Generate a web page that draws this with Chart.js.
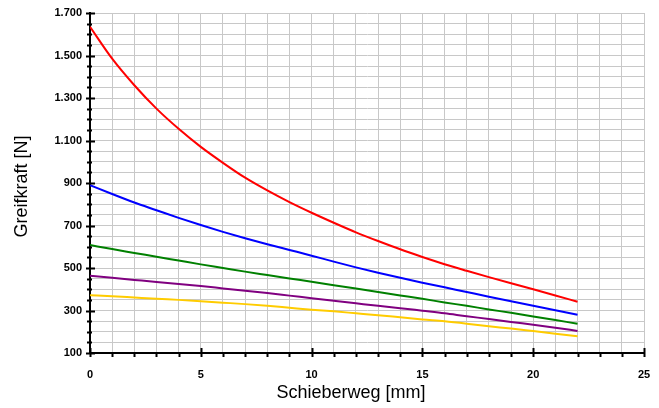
<!DOCTYPE html>
<html>
<head>
<meta charset="utf-8">
<script src="https://cdn.jsdelivr.net/npm/chart.js@4/dist/chart.umd.min.js"></script>
<style>
  html, body { margin: 0; padding: 0; background: #fff; }
  #wrap { width: 659px; height: 408px; }
</style>
</head>
<body>
<div id="wrap"><canvas id="greifChart"></canvas></div>
<script>
// Schieberweg in mm
const schieberweg = [0, 1, 2, 3, 4, 5, 6, 7, 8, 9, 10, 11, 12, 13, 14, 15, 16, 17, 18, 19, 20, 21, 22];

// Greifkraft in N
const kraftRot    = [1635, 1485, 1360, 1250, 1155, 1070, 995, 925, 865, 810, 760, 713, 668, 627, 588, 552, 518, 487, 457, 428, 400, 371, 341];
const kraftBlau   = [890, 848, 808, 772, 736, 702, 670, 640, 612, 585, 558, 530, 503, 478, 454, 431, 409, 387, 365, 344, 322, 301, 280];
const kraftGruen  = [608, 589, 571, 553, 535, 517, 500, 483, 467, 451, 435, 419, 403, 387, 371, 355, 338, 322, 305, 289, 272, 255, 238];
const kraftLila   = [464, 454, 444, 434, 425, 415, 404, 393, 382, 370, 358, 346, 334, 322, 311, 299, 287, 273, 260, 246, 233, 219, 204];
const kraftGelb   = [372, 367, 361, 355, 350, 344, 337, 330, 322, 313, 304, 296, 287, 278, 268, 258, 249, 238, 226, 215, 203, 191, 179];

const xMin = 0, xMax = 25, xStep = 1, xLabelStep = 5;
const yMin = 100, yMax = 1700, yStep = 50, yLabelStep = 200;

const xTitle = 'Schieberweg [mm]';
const yTitle = 'Greifkraft [N]';

function toPoints(values) {
    return schieberweg.map((x, i) => ({ x: x, y: values[i] }));
}

function formatDe(v) {
    return String(v).replace(/\B(?=(\d{3})+(?!\d))/g, '.');
}

function makeSet(label, values, color) {
    return {
        label: label,
        data: toPoints(values),
        borderColor: color,
        backgroundColor: color,
        borderWidth: 2,
        pointRadius: 0,
        fill: false,
        cubicInterpolationMode: 'monotone'
    };
}

const fontFamily = 'Arial, "Liberation Sans", sans-serif';

// Tick marks and axis titles
const axisDeco = {
    id: 'axisDeco',
    afterDraw(chart) {
        const ctx = chart.ctx;
        const area = chart.chartArea;
        const xs = chart.scales.x;
        const ys = chart.scales.y;
        ctx.save();
        ctx.strokeStyle = '#000';
        ctx.lineWidth = 2;
        ys.ticks.forEach(t => {
            const py = Math.round(ys.getPixelForValue(t.value)) + 0.5;
            const major = (t.value - yMin) % yLabelStep === 0;
            ctx.beginPath();
            ctx.moveTo(area.left - (major ? 4 : 3), py);
            ctx.lineTo(area.left + (major ? 5 : 2), py);
            ctx.stroke();
        });
        xs.ticks.forEach(t => {
            const px = Math.round(xs.getPixelForValue(t.value)) + 0.5;
            const major = t.value % xLabelStep === 0;
            ctx.beginPath();
            ctx.moveTo(px, area.bottom + 4);
            ctx.lineTo(px, area.bottom - (major ? 5 : 1));
            ctx.stroke();
        });

        ctx.fillStyle = '#000';
        ctx.font = '18px ' + fontFamily;
        ctx.textAlign = 'center';
        ctx.textBaseline = 'middle';
        ctx.fillText(xTitle, area.left + 261, 393);

        ctx.translate(22.5, 186.5);
        ctx.rotate(-Math.PI / 2);
        ctx.fillText(yTitle, 0, 0);
        ctx.restore();
    }
};

new Chart(document.getElementById('greifChart'), {
    type: 'line',
    data: {
        datasets: [
            makeSet('Rot', kraftRot, '#ff0000'),
            makeSet('Blau', kraftBlau, '#0000ff'),
            makeSet('Grün', kraftGruen, '#008000'),
            makeSet('Lila', kraftLila, '#800080'),
            makeSet('Gelb', kraftGelb, '#ffcc00')
        ]
    },
    options: {
        responsive: true,
        maintainAspectRatio: false,
        animation: false,
        layout: { padding: { top: 13, right: 15, left: 0, bottom: 0 } },
        plugins: {
            legend: { display: false },
            tooltip: { enabled: false },
            title: { display: false }
        },
        scales: {
            x: {
                type: 'linear',
                min: xMin,
                max: xMax,
                afterFit: s => {
                    s.height = 55;
                    s.paddingLeft = 0;
                    s.paddingRight = 0;
                },
                ticks: {
                    stepSize: xStep,
                    autoSkip: false,
                    maxRotation: 0,
                    padding: 15,
                    color: '#000',
                    font: { family: fontFamily, size: 11, weight: 'bold' },
                    callback: v => (v % xLabelStep === 0 ? String(v) : '')
                },
                grid: { color: '#c8c8c8', lineWidth: 1, drawTicks: false },
                border: { display: true, color: '#000', width: 2 }
            },
            y: {
                min: yMin,
                max: yMax,
                afterFit: s => {
                    s.width = 90;
                    s.paddingTop = 0;
                    s.paddingBottom = 0;
                },
                ticks: {
                    stepSize: yStep,
                    autoSkip: false,
                    padding: 8,
                    color: '#000',
                    font: { family: fontFamily, size: 11, weight: 'bold' },
                    callback: v => ((v - yMin) % yLabelStep === 0 ? formatDe(v) : '')
                },
                grid: { color: '#c8c8c8', lineWidth: 1, drawTicks: false },
                border: { display: true, color: '#000', width: 2 }
            }
        }
    },
    plugins: [axisDeco]
});
</script>
</body>
</html>
